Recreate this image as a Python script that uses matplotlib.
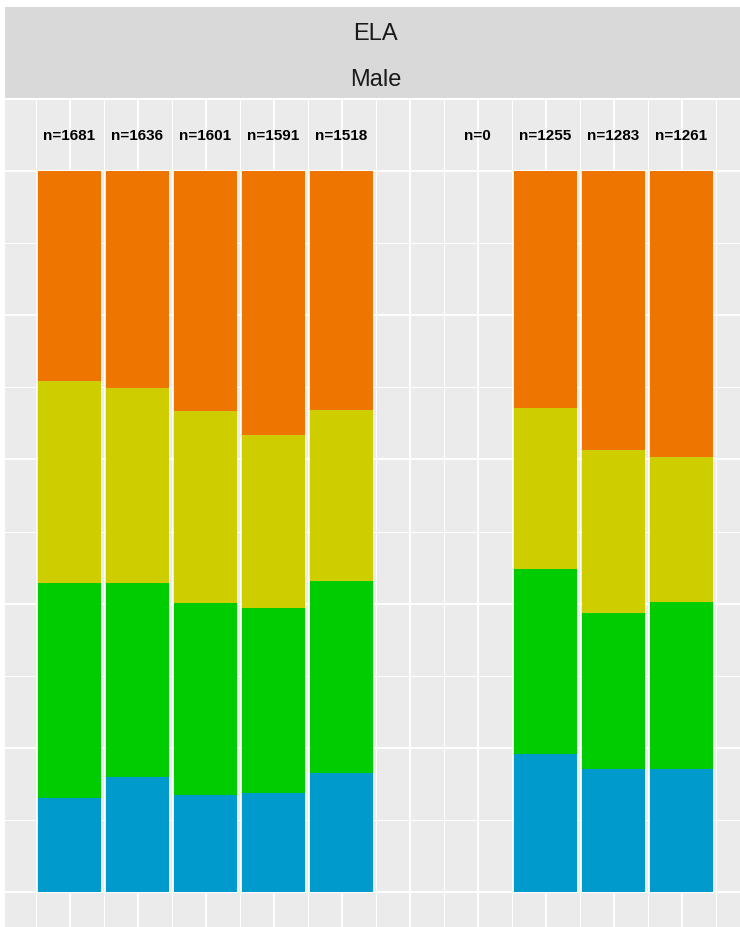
import matplotlib
matplotlib.use('Agg')
import numpy as np
import matplotlib.pyplot as plt

plt.rcParams['font.family'] = ['Liberation Sans', 'DejaVu Sans']

# x positions (10 slots); slot 6 has no group, slot 7 has n=0
positions = [1, 2, 3, 4, 5, 6, 7, 8, 9, 10]
n_counts = [1681, 1636, 1601, 1591, 1518, None, 0, 1255, 1283, 1261]

# shares per level, bottom to top (nan = no bar)
lvl1 = [0.131, 0.160, 0.134, 0.137, 0.165, np.nan, np.nan, 0.191, 0.171, 0.171]
lvl2 = [0.298, 0.269, 0.267, 0.257, 0.266, np.nan, np.nan, 0.257, 0.216, 0.231]
lvl3 = [0.280, 0.270, 0.266, 0.240, 0.238, np.nan, np.nan, 0.223, 0.226, 0.202]
lvl4 = [0.291, 0.301, 0.333, 0.366, 0.331, np.nan, np.nan, 0.329, 0.387, 0.396]

level_colors = ['#009ACD', '#00CD00', '#CDCD00', '#EE7600']
strip_labels = ['ELA', 'Male']

W, H = 740, 928
fig = plt.figure(figsize=(W / 100, H / 100), dpi=100)

# pixel layout of the panel (ggplot-like expansion)
xlim = (0.055, 10.945)
ylim = (-0.05, 1.099)
px_x1, px_unit_x = 69.5, 68.0
px_y0, px_unit_y = 893.0, 721.0
left_px = px_x1 + (xlim[0] - 1) * px_unit_x
right_px = px_x1 + (xlim[1] - 1) * px_unit_x
top_px = px_y0 - ylim[1] * px_unit_y
bot_px = px_y0 - ylim[0] * px_unit_y

ax = fig.add_axes([left_px / W, 1 - bot_px / H, (right_px - left_px) / W, (bot_px - top_px) / H])
ax.set_facecolor('#EBEBEB')
ax.set_xlim(*xlim)
ax.set_ylim(*ylim)

for yv in np.arange(0, 1.01, 0.2):
    ax.axhline(yv, color='white', lw=1.4, zorder=0)
for yv in np.arange(0.1, 1.01, 0.2):
    ax.axhline(yv, color='white', lw=0.7, zorder=0)
for xv in positions:
    ax.axvline(xv, color='white', lw=1.4, zorder=0)
for xv in np.arange(0.5, 10.6, 1.0):
    ax.axvline(xv, color='white', lw=0.7, zorder=0)

bottom = np.zeros(len(positions))
for vals, col in zip([lvl1, lvl2, lvl3, lvl4], level_colors):
    v = np.array(vals, dtype=float)
    ok = ~np.isnan(v)
    ax.bar(np.array(positions)[ok], v[ok], width=0.92, bottom=bottom[ok],
           color=col, linewidth=0, zorder=2)
    bottom[ok] += v[ok]

for x, n in zip(positions, n_counts):
    if n is None:
        continue
    ax.text(x, 1.05, 'n=%d' % n, ha='center', va='center', fontsize=11,
            fontweight='bold', color='black', zorder=3)

for s in ax.spines.values():
    s.set_visible(False)
ax.set_xticks([])
ax.set_yticks([])

# facet strip
strip_top = 8.0
strip_bot = top_px - 1.2
sax = fig.add_axes([left_px / W, 1 - strip_bot / H, (right_px - left_px) / W, (strip_bot - strip_top) / H])
sax.set_facecolor('#D9D9D9')
sax.set_xlim(left_px, right_px)
sax.set_ylim(0, 2)
for s in sax.spines.values():
    s.set_visible(False)
sax.set_xticks([])
sax.set_yticks([])
sax.text(375.5, 1.43, strip_labels[0], ha='center', va='center', fontsize=17, color='#1A1A1A')
sax.text(375.5, 0.43, strip_labels[1], ha='center', va='center', fontsize=17, color='#1A1A1A')

fig.savefig('out.png', dpi=100)
